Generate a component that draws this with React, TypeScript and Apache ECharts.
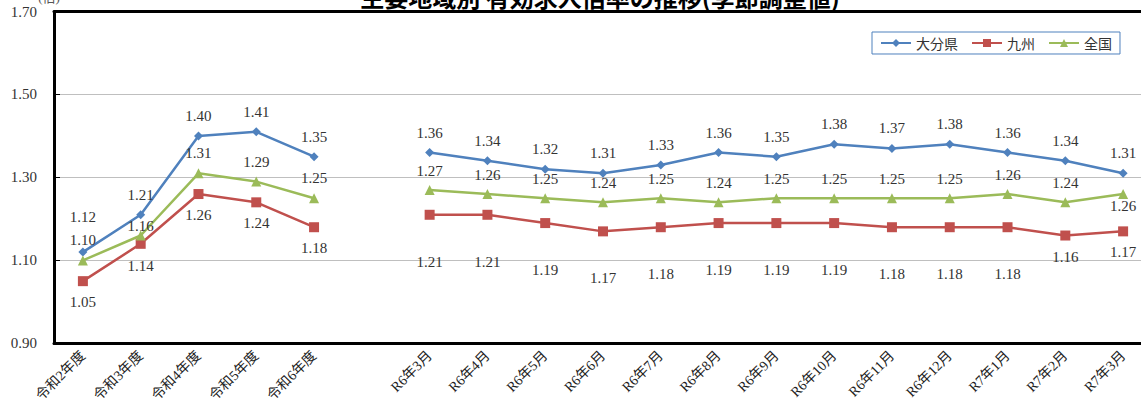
import React, { useEffect, useRef } from "react";
import * as echarts from "echarts";

const categories = [
  "令和2年度", "令和3年度", "令和4年度", "令和5年度", "令和6年度", "",
  "R6年3月", "R6年4月", "R6年5月", "R6年6月", "R6年7月", "R6年8月", "R6年9月",
  "R6年10月", "R6年11月", "R6年12月", "R7年1月", "R7年2月", "R7年3月",
];
const oita = [1.12, 1.21, 1.40, 1.41, 1.35, null, 1.36, 1.34, 1.32, 1.31, 1.33, 1.36, 1.35, 1.38, 1.37, 1.38, 1.36, 1.34, 1.31];
const kyushu = [1.05, 1.14, 1.26, 1.24, 1.18, null, 1.21, 1.21, 1.19, 1.17, 1.18, 1.19, 1.19, 1.19, 1.18, 1.18, 1.18, 1.16, 1.17];
const zenkoku = [1.10, 1.16, 1.31, 1.29, 1.25, null, 1.27, 1.26, 1.25, 1.24, 1.25, 1.24, 1.25, 1.25, 1.25, 1.25, 1.26, 1.24, 1.26];

// label vertical offsets (px, relative to the point)
const oitaLabelDy = [-35, -20, -20, -20, -20, 0, -20, -20, -20, -20, -20, -20, -20, -20, -20, -20, -20, -20, -20];
const kyushuLabelDy = [21, 22, 21, 21, 21, 0, 47, 47, 47, 47, 47, 47, 47, 47, 47, 47, 47, 21, 21];
const zenkokuLabelDy = [-20, -10, -20, -20, -20, 0, -19, -19, -19, -19, -19, -19, -19, -19, -19, -19, -19, -19, 12];

const serif = "'Liberation Serif', 'DejaVu Serif', 'Noto Sans CJK JP', serif";
const gothic = "'Noto Sans CJK JP', sans-serif";

function buildData(values: (number | null)[], dys: number[]) {
  return values.map((v, i) =>
    v === null ? null : { value: v, label: { offset: [0, dys[i]] } }
  );
}

function makeSeries(name: string, values: (number | null)[], dys: number[], color: string, symbol: string, size: number) {
  return {
    name,
    type: "line",
    data: buildData(values, dys),
    connectNulls: false,
    symbol,
    symbolSize: size,
    lineStyle: { color, width: 2.5 },
    itemStyle: { color },
    label: {
      show: true,
      position: "inside",
      fontFamily: serif,
      fontSize: 15,
      color: "#333",
      formatter: (p: any) => Number(p.value).toFixed(2),
    },
  };
}

const blackLine = { show: true, lineStyle: { color: "#000", width: 3 } };

export default function App() {
  const ref = useRef<HTMLDivElement>(null);
  useEffect(() => {
    if (!ref.current) return;
    document.body.style.margin = "0";
    document.body.style.overflow = "hidden";
    document.documentElement.style.overflow = "hidden";
    const chart = echarts.init(ref.current, null, { renderer: "svg" });
    chart.setOption({
      animation: false,
      backgroundColor: "#fff",
      grid: {
        left: 54,
        top: 11.5,
        width: 1098,
        height: 333,
        show: false,
      },
      graphic: [
        {
          type: "text",
          x: 600,
          y: 8,
          style: {
            text: "主要地域別 有効求人倍率の推移(季節調整値)",
            fontFamily: gothic,
            fontWeight: "bold",
            fontSize: 24,
            fill: "#000",
            align: "center",
            verticalAlign: "bottom",
          },
        },
        {
          type: "text",
          x: 49,
          y: 4,
          style: {
            text: "(倍)",
            fontFamily: serif,
            fontSize: 13,
            fill: "#555",
            align: "center",
            verticalAlign: "bottom",
          },
        },
      ],
      legend: {
        left: 872,
        top: 32,
        padding: [4, 8, 4, 8],
        itemGap: 13,
        itemWidth: 30,
        itemHeight: 10,
        borderColor: "#4F81BD",
        borderWidth: 1,
        backgroundColor: "#fff",
        textStyle: { fontFamily: gothic, fontSize: 14, color: "#333" },
        data: ["大分県", "九州", "全国"],
      },
      xAxis: [
        {
          type: "category",
          data: categories,
          boundaryGap: true,
          position: "bottom",
          axisLine: blackLine,
          axisTick: { show: false },
          axisLabel: {
            interval: 0,
            rotate: 45,
            margin: 10,
            fontFamily: serif,
            fontSize: 14,
            color: "#222",
          },
          splitLine: { show: false },
        },
        {
          type: "category",
          data: categories,
          boundaryGap: true,
          position: "top",
          axisLine: blackLine,
          axisTick: { show: false },
          axisLabel: { show: false },
          splitLine: { show: false },
        },
      ],
      yAxis: {
        type: "value",
        min: 0.9,
        max: 1.7,
        interval: 0.2,
        axisLine: blackLine,
        axisTick: { show: true, inside: true, length: 6, lineStyle: { color: "#000", width: 1 } },
        axisLabel: {
          margin: 17,
          fontFamily: serif,
          fontSize: 15,
          color: "#333",
          formatter: (v: number) => v.toFixed(2),
        },
        splitLine: { show: true, lineStyle: { color: "#BFBFBF", width: 1 } },
      },
      series: [
        makeSeries("大分県", oita, oitaLabelDy, "#4F81BD", "diamond", 9),
        makeSeries("九州", kyushu, kyushuLabelDy, "#C0504D", "rect", 10),
        makeSeries("全国", zenkoku, zenkokuLabelDy, "#9BBB59", "triangle", 10),
      ],
    });
    return () => chart.dispose();
  }, []);
  return (
    <div
      ref={ref}
      style={{ position: "absolute", left: 0, top: 0, width: 1170, height: 405, background: "#fff" }}
    />
  );
}
